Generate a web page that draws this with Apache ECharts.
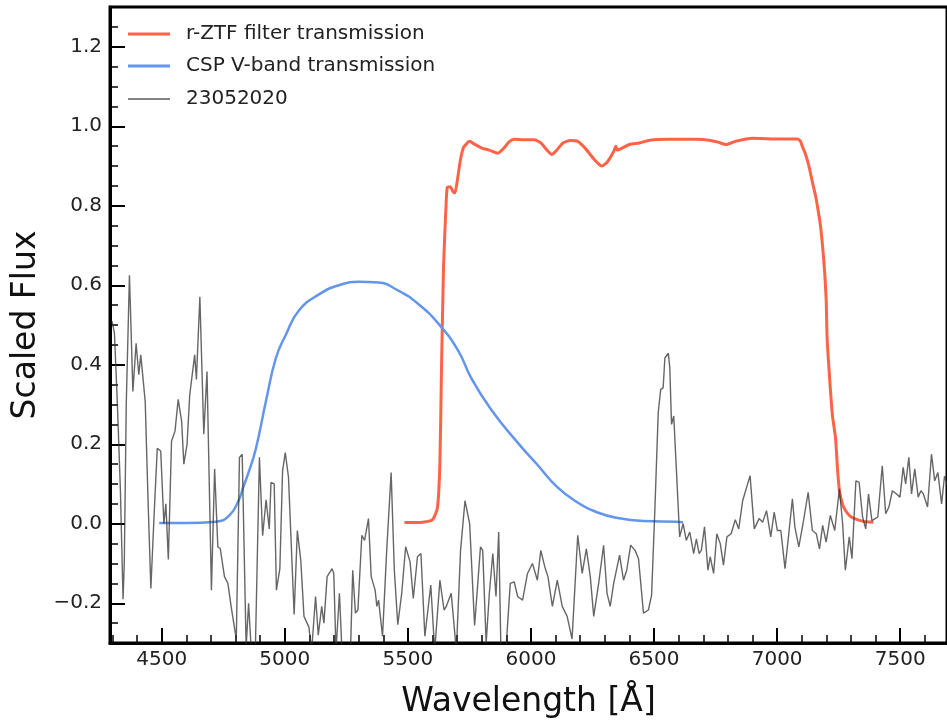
<!DOCTYPE html>
<html>
<head>
<meta charset="utf-8">
<script src="https://cdn.jsdelivr.net/npm/echarts@6/dist/echarts.min.js"></script>
<style>
  html, body { margin: 0; padding: 0; background: #fff; }
  #main { width: 947px; height: 724px; }
</style>
</head>
<body>
<div id="main"></div>
<script>
// r-ZTF filter transmission
const ztfWave = [5486, 5560, 5600, 5620, 5630, 5636, 5645, 5655, 5660, 5672, 5684, 5691, 5700, 5712, 5725, 5737,
  5751, 5770, 5800, 5830, 5865, 5890, 5910, 5932, 5970, 6013, 6040, 6065, 6084, 6105, 6130, 6160, 6190, 6220,
  6255, 6288, 6310, 6335, 6345, 6350, 6400, 6440, 6483, 6560, 6672, 6724, 6760, 6793, 6830, 6900, 6980, 7050,
  7082, 7095, 7102, 7115, 7129, 7143, 7156, 7166, 7176, 7189, 7199, 7203, 7215, 7225, 7237, 7245, 7253, 7265,
  7277, 7295, 7318, 7350, 7391];
const ztfTrans = [0.003, 0.004, 0.01, 0.04, 0.15, 0.37, 0.65, 0.80, 0.846, 0.848, 0.835, 0.832, 0.86, 0.91, 0.945, 0.955,
  0.962, 0.955, 0.945, 0.94, 0.932, 0.945, 0.96, 0.967, 0.966, 0.966, 0.958, 0.94, 0.929, 0.94, 0.958, 0.964, 0.962, 0.945,
  0.918, 0.90, 0.91, 0.935, 0.95, 0.94, 0.954, 0.958, 0.965, 0.967, 0.967, 0.965, 0.96, 0.954, 0.962, 0.97, 0.968, 0.968,
  0.968, 0.962, 0.95, 0.93, 0.90, 0.86, 0.825, 0.79, 0.75, 0.667, 0.567, 0.467, 0.35, 0.27, 0.217, 0.14, 0.083, 0.05,
  0.034, 0.02, 0.012, 0.006, 0.004];

// CSP V-band transmission
const cspWave = [4490, 4600, 4720, 4775, 4815, 4830, 4855, 4883, 4924, 4964, 5004, 5058, 5139, 5220, 5300, 5380,
  5460, 5540, 5623, 5703, 5757, 5838, 5946, 6026, 6107, 6188, 6268, 6349, 6457, 6590, 6618];
const cspTrans = [0.002, 0.002, 0.005, 0.021, 0.062, 0.09, 0.133, 0.19, 0.31, 0.417, 0.475, 0.537, 0.577, 0.6, 0.609, 0.607,
  0.587, 0.554, 0.504, 0.437, 0.367, 0.2875, 0.204, 0.1485, 0.092, 0.054, 0.029, 0.015, 0.007, 0.005, 0.004];

// spectrum 23052020
const specWave = [4298, 4308, 4320, 4332, 4343, 4348, 4356, 4369, 4383, 4396, 4407, 4415, 4433, 4445, 4456, 4469,
  4482, 4496, 4509, 4517, 4527, 4540, 4554, 4567, 4581, 4590, 4603, 4614, 4634, 4641, 4655, 4671, 4684, 4702,
  4715, 4728, 4738, 4755, 4769, 4782, 4803, 4816, 4827, 4843, 4853, 4864, 4880, 4897, 4910, 4924, 4937, 4944,
  4957, 4966, 4980, 4991, 5002, 5015, 5038, 5051, 5065, 5078, 5098, 5109, 5125, 5136, 5150, 5159, 5172, 5192,
  5199, 5208, 5222, 5233, 5252, 5267, 5276, 5287, 5297, 5313, 5324, 5340, 5351, 5367, 5374, 5381, 5397, 5414,
  5432, 5445, 5459, 5475, 5491, 5509, 5522, 5539, 5553, 5569, 5593, 5609, 5630, 5647, 5656, 5676, 5697, 5714,
  5732, 5751, 5771, 5784, 5795, 5804, 5818, 5831, 5845, 5858, 5869, 5878, 5898, 5916, 5932, 5946, 5966, 5986,
  6006, 6026, 6040, 6056, 6069, 6087, 6107, 6127, 6147, 6167, 6190, 6208, 6225, 6241, 6255, 6275, 6295, 6309,
  6322, 6336, 6360, 6376, 6389, 6405, 6423, 6437, 6457, 6477, 6490, 6503, 6517, 6527, 6537, 6544, 6558, 6564,
  6571, 6580, 6591, 6604, 6618, 6631, 6645, 6661, 6672, 6683, 6692, 6705, 6719, 6728, 6742, 6755, 6769, 6782,
  6796, 6813, 6830, 6844, 6860, 6890, 6907, 6927, 6941, 6957, 6974, 6988, 7001, 7015, 7032, 7046, 7062, 7072,
  7088, 7105, 7126, 7143, 7159, 7172, 7185, 7199, 7216, 7234, 7253, 7266, 7277, 7293, 7304, 7320, 7333, 7347,
  7360, 7371, 7385, 7398, 7409, 7427, 7441, 7454, 7468, 7485, 7499, 7512, 7522, 7535, 7546, 7559, 7573, 7584,
  7594, 7611, 7627, 7640, 7653, 7668, 7680, 7695];
const specFlux = [0.51, 0.48, 0.30, 0.09, -0.19, -0.10, 0.30, 0.625, 0.333, 0.454, 0.375, 0.425, 0.308, 0.05, -0.163, 0.02,
  0.19, 0.183, 0.0, 0.05, -0.09, 0.208, 0.233, 0.313, 0.258, 0.15, 0.20, 0.325, 0.425, 0.363, 0.571, 0.225, 0.383, -0.167,
  0.138, -0.058, -0.063, -0.133, -0.15, -0.208, -0.29, 0.167, 0.175, -0.31, -0.20, -0.32, -0.33, 0.167, -0.03, 0.06, -0.013, 0.104,
  0.10, -0.167, -0.113, 0.133, 0.179, 0.117, -0.228, -0.017, -0.092, -0.233, -0.26, -0.32, -0.183, -0.28, -0.208, -0.25, -0.133, -0.113,
  -0.125, -0.32, -0.175, -0.33, -0.34, -0.32, -0.117, -0.225, -0.217, -0.029, -0.042, 0.013, -0.133, -0.167, -0.208, -0.192, -0.283, -0.067,
  0.129, -0.117, -0.254, -0.175, -0.058, -0.096, -0.188, -0.083, -0.075, -0.283, -0.154, -0.32, -0.142, -0.217, -0.208, -0.175, -0.32, -0.067,
  0.058, 0.0, -0.256, -0.15, -0.058, -0.067, -0.30, -0.175, -0.075, -0.183, -0.021, -0.32, -0.32, -0.15, -0.146, -0.183, -0.192, -0.125,
  -0.10, -0.142, -0.067, -0.108, -0.133, -0.208, -0.142, -0.208, -0.233, -0.29, -0.029, -0.125, -0.063, -0.133, -0.233, -0.15, -0.054, -0.175,
  -0.208, -0.15, -0.079, -0.142, -0.117, -0.054, -0.067, -0.088, -0.225, -0.217, -0.18, 0.03, 0.28, 0.338, 0.342, 0.417, 0.429, 0.392,
  0.25, 0.271, 0.133, -0.033, 0.0, -0.042, -0.021, -0.075, -0.038, -0.075, -0.067, -0.008, -0.117, -0.083, -0.125, -0.025, -0.05, -0.104,
  -0.033, -0.025, 0.01, -0.013, 0.058, 0.121, -0.013, 0.013, 0.004, 0.033, -0.033, 0.029, -0.017, -0.017, -0.113, -0.033, 0.063, -0.008,
  -0.058, 0.0, 0.079, -0.017, -0.025, -0.063, -0.004, -0.046, 0.021, -0.017, 0.088, 0.0, -0.117, -0.033, -0.088, 0.108, 0.104, 0.017,
  -0.013, 0.075, 0.008, 0.013, 0.017, 0.146, 0.025, 0.042, 0.083, 0.075, 0.067, 0.142, 0.10, 0.167, 0.075, 0.138, 0.067, 0.083,
  0.075, 0.042, 0.175, 0.108, 0.129, 0.05, 0.12, 0.09];

// ticks
const xMajor = [4500, 5000, 5500, 6000, 6500, 7000, 7500];
const yMajor = [-0.2, 0.0, 0.2, 0.4, 0.6, 0.8, 1.0, 1.2];
const xMinor = [];
for (let v = 4300; v <= 7690; v += 100) xMinor.push(v);
const yMinor = [];
for (let v = -25; v <= 125; v += 5) yMinor.push(v / 100);

const font = 'DejaVu Sans';
const X_MIN = 4290, X_MAX = 7690, Y_MIN = -0.3, Y_MAX = 1.3;

const pairs = (xs, ys) => xs.map((x, i) => [x, ys[i]]);

const chart = echarts.init(document.getElementById('main'), null, { renderer: 'canvas' });

// one legend per entry so each row sits where the reference puts it
const legendBase = (name, top, h) => ({
  data: [name],
  left: 123,
  top: top,
  icon: 'rect',
  itemWidth: 42,
  itemHeight: h,
  selectedMode: false,
  textStyle: { fontFamily: font, fontSize: 20, color: '#222', padding: [0, 0, 0, 11] }
});

chart.setOption({
  animation: false,
  backgroundColor: '#fff',
  grid: {
    left: 110, right: -6, top: 7, bottom: 77,
    show: true, borderColor: '#000', borderWidth: 3, backgroundColor: 'transparent'
  },
  legend: [
    legendBase('r-ZTF filter transmission', 19, 3),
    legendBase('CSP V-band transmission', 51, 3),
    legendBase('23052020', 84, 1.5)
  ],
  xAxis: [{
    type: 'value', min: X_MIN, max: X_MAX,
    name: 'Wavelength [Å]', nameLocation: 'middle', nameGap: 43,
    nameTextStyle: { fontFamily: font, fontSize: 33, color: '#111' },
    axisLine: { onZero: false, lineStyle: { color: '#000', width: 3 } },
    axisTick: { inside: true, length: 15, customValues: xMajor, lineStyle: { color: '#000', width: 2 } },
    axisLabel: { customValues: xMajor, margin: 7, fontFamily: font, fontSize: 20, color: '#222', formatter: v => String(v) },
    splitLine: { show: false }
  }, {
    type: 'value', min: X_MIN, max: X_MAX, position: 'bottom',
    axisLine: { show: false, onZero: false },
    axisTick: { inside: true, length: 8, customValues: xMinor, lineStyle: { color: '#000', width: 1.5 } },
    axisLabel: { show: false },
    splitLine: { show: false }
  }],
  yAxis: [{
    type: 'value', min: Y_MIN, max: Y_MAX,
    name: 'Scaled Flux', nameLocation: 'middle', nameGap: 59,
    nameTextStyle: { fontFamily: font, fontSize: 33, color: '#111' },
    axisLine: { show: true, onZero: false, lineStyle: { color: '#000', width: 3 } },
    axisTick: { show: true, inside: true, length: 15, customValues: yMajor, lineStyle: { color: '#000', width: 2 } },
    axisLabel: {
      customValues: yMajor, margin: 8, fontFamily: font, fontSize: 20, color: '#222',
      formatter: v => v.toFixed(1).replace('-', '\u2212')
    },
    splitLine: { show: false }
  }, {
    type: 'value', min: Y_MIN, max: Y_MAX, position: 'left',
    axisLine: { show: false, onZero: false },
    axisTick: { show: true, inside: true, length: 8, customValues: yMinor, lineStyle: { color: '#000', width: 1.5 } },
    axisLabel: { show: false },
    splitLine: { show: false }
  }],
  series: [{
    name: 'r-ZTF filter transmission',
    type: 'line', symbol: 'none', smooth: 0.2,
    data: pairs(ztfWave, ztfTrans),
    lineStyle: { color: '#ff6347', width: 3 },
    itemStyle: { color: '#ff6347' }
  }, {
    name: 'CSP V-band transmission',
    type: 'line', symbol: 'none', smooth: true,
    data: pairs(cspWave, cspTrans),
    lineStyle: { color: '#6495ed', width: 2.5 },
    itemStyle: { color: '#6495ed' }
  }, {
    name: '23052020',
    type: 'line', symbol: 'none',
    data: pairs(specWave, specFlux),
    lineStyle: { color: '#333', width: 1.4, opacity: 0.75 },
    itemStyle: { color: '#5a5a5a' }
  }]
});
</script>
</body>
</html>
